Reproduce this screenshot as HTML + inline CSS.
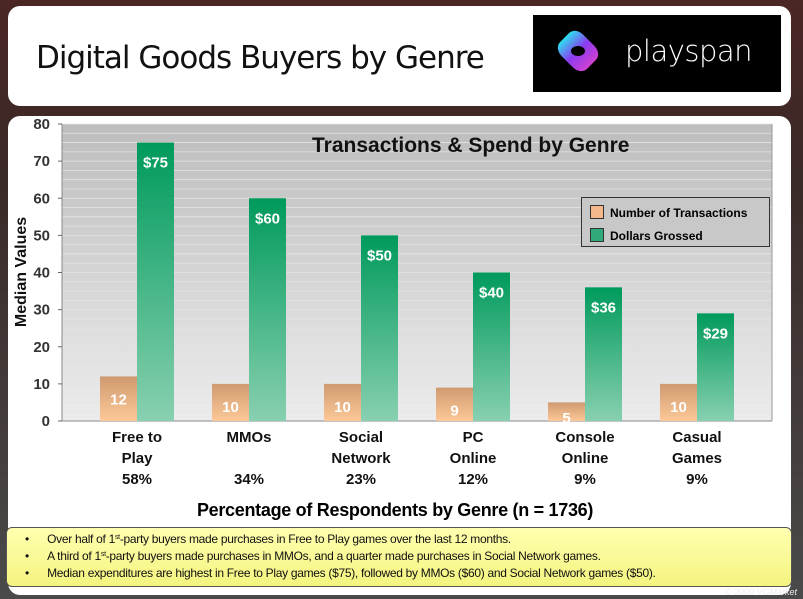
<!DOCTYPE html>
<html><head><meta charset="utf-8"><style>
body{margin:0;width:803px;height:599px;overflow:hidden;background:linear-gradient(#4a2624,#3a2a28 30%,#4a4a4a);font-family:"Liberation Sans",sans-serif;position:relative}
.abs{position:absolute}
sup{font-size:7px;line-height:0;vertical-align:4px}
</style></head><body>
<div class="abs" style="left:8px;top:6px;width:783px;height:100px;background:#fff;border-radius:12px"></div>
<div class="abs" style="left:36px;top:40px;font-size:31px;color:#111;font-family:'DejaVu Sans',sans-serif;letter-spacing:-1px">Digital Goods Buyers by Genre</div>
<div class="abs" style="left:533px;top:15px;width:248px;height:77px;background:#000">
 <div class="abs" style="left:26px;top:17px;width:38px;height:38px;border-radius:11px;transform:rotate(45deg) scaleY(.8);background:linear-gradient(90deg,#2de0f0,#8a3cf0,#d040d0)"></div>
 <div class="abs" style="left:38px;top:31px;width:14px;height:10px;border-radius:50%;background:#000"></div>
 <div class="abs" style="left:92px;top:19px;color:#fff;font-size:29px;font-family:'DejaVu Sans',sans-serif;font-weight:300;letter-spacing:-0.5px">playspan</div>
</div>
<div class="abs" style="left:8px;top:116px;width:783px;height:479px;background:#fff;border-radius:12px"></div>
<svg class="abs" style="left:0;top:0" width="803" height="599">
<defs>
<linearGradient id="bg" x1="0" y1="0" x2="0" y2="1"><stop offset="0" stop-color="#bdbdbd"/><stop offset="1" stop-color="#ececec"/></linearGradient>
<linearGradient id="gg" x1="0" y1="0" x2="0" y2="1"><stop offset="0" stop-color="#009a5c"/><stop offset="1" stop-color="#88d0b0"/></linearGradient>
<linearGradient id="og" x1="0" y1="0" x2="0" y2="1"><stop offset="0" stop-color="#d09a70"/><stop offset="1" stop-color="#fcc898"/></linearGradient>
</defs>
<g id="plot"></g>
<text x="26" y="272" transform="rotate(-90 26 272)" text-anchor="middle" font-size="16" font-weight="bold" fill="#111" font-family="Liberation Sans, sans-serif">Median Values</text>
</svg>
<div class="abs" style="left:312px;top:134px;font-size:21px;font-weight:bold;color:#111">Transactions &amp; Spend by Genre</div>
<div class="abs" style="left:581px;top:197px;width:187px;height:48px;border:1px solid #333;background:#c8c8c8;font-size:12px;font-weight:bold">
 <div class="abs" style="left:8px;top:7px"><span style="display:inline-block;width:12px;height:12px;border:1px solid #333;background:#f4b88c;vertical-align:-2px;margin-right:6px"></span>Number of Transactions</div>
 <div class="abs" style="left:8px;top:30px"><span style="display:inline-block;width:12px;height:12px;border:1px solid #333;background:#30aa78;vertical-align:-2px;margin-right:6px"></span>Dollars Grossed</div>
</div>
<div class="abs" style="left:0;top:500px;width:790px;text-align:center;font-family:'Liberation Sans',sans-serif;font-size:18px;font-weight:bold;letter-spacing:-0.3px">Percentage of Respondents by Genre (n = 1736)</div>
<div class="abs" style="left:6px;top:527px;width:784px;height:58px;background:linear-gradient(#ffffb0,#f4f480);border:1px solid #555;border-radius:6px;font-family:'Liberation Sans',sans-serif;font-size:12px;letter-spacing:-0.3px;line-height:17px;color:#111">
 <div style="position:absolute;left:18px;top:3px">
 <div>•&nbsp;&nbsp;&nbsp;&nbsp;&nbsp;&nbsp;Over half of 1<sup>st</sup>-party buyers made purchases in Free to Play games over the last 12 months.</div>
 <div>•&nbsp;&nbsp;&nbsp;&nbsp;&nbsp;&nbsp;A third of 1<sup>st</sup>-party buyers made purchases in MMOs, and a quarter made purchases in Social Network games.</div>
 <div>•&nbsp;&nbsp;&nbsp;&nbsp;&nbsp;&nbsp;Median expenditures are highest in Free to Play games ($75), followed by MMOs ($60) and Social Network games ($50).</div>
 </div>
</div>
<div class="abs" style="right:6px;top:587px;font-size:9px;font-style:italic;color:#eee">© 2009 VGMarket</div>
<script>
const categories=[["Free to","Play"],["MMOs",""],["Social","Network"],["PC","Online"],["Console","Online"],["Casual","Games"]];
const percents=["58%","34%","23%","12%","9%","9%"];
const transactions=[12,10,10,9,5,10];
const dollars=[75,60,50,40,36,29];
const yTicks=[0,10,20,30,40,50,60,70,80];
const NS="http://www.w3.org/2000/svg";
const g=document.getElementById('plot');
const X0=62,X1=772,Y0=421,Y1=124,YMAX=80;
const y=v=>Y0-(v/YMAX)*(Y0-Y1);
const cx=i=>137+112*i;
const BW=37;
function mk(t,a){const e=document.createElementNS(NS,t);for(const k in a)e.setAttribute(k,a[k]);g.appendChild(e);return e;}
let bg=mk('rect',{x:X0,y:Y1,width:X1-X0,height:Y0-Y1,fill:'url(#bg)'});


for(let v=0;v<=YMAX;v+=2.5){mk('line',{x1:X0,x2:X1,y1:y(v),y2:y(v),stroke:'#e4e4e4','stroke-width':0.8});}
mk('line',{x1:X0,x2:X0,y1:Y1,y2:Y0,stroke:'#888'});
mk('line',{x1:X0,x2:X1,y1:Y0,y2:Y0,stroke:'#888'});
mk('line',{x1:X1,x2:X1,y1:Y1,y2:Y0,stroke:'#999'});
yTicks.forEach(v=>{
 mk('line',{x1:X0-4,x2:X0,y1:y(v),y2:y(v),stroke:'#666'});
 const t=mk('text',{x:50,y:y(v)+5,'text-anchor':'end','font-size':15,'font-weight':'bold',fill:'#333','font-family':'Liberation Sans, sans-serif'});
 t.textContent=v;
 
 
});
categories.forEach((c,i)=>{
 const o=mk('rect',{x:cx(i)-BW,y:y(transactions[i]),width:BW,height:Y0-y(transactions[i]),fill:'url(#og)'});
 
 
 const d=mk('rect',{x:cx(i),y:y(dollars[i]),width:BW,height:Y0-y(dollars[i]),fill:'url(#gg)'});
 
 
 const tl=mk('text',{x:cx(i)-BW/2,y:Math.min(y(transactions[i])+28,Y0+2),'text-anchor':'middle','font-size':15,'font-weight':'bold',fill:'#fff','font-family':'Liberation Sans, sans-serif'});
 tl.textContent=transactions[i];
 
 
 const dl=mk('text',{x:cx(i)+BW/2,y:y(dollars[i])+25,'text-anchor':'middle','font-size':15,'font-weight':'bold',fill:'#fff','font-family':'Liberation Sans, sans-serif'});
 dl.textContent='$'+dollars[i];
 
 
 [c[0],c[1],percents[i]].forEach((s,k)=>{
  const t=mk('text',{x:cx(i),y:442+k*21,'text-anchor':'middle','font-size':15,'font-weight':'bold',fill:'#111','font-family':'Liberation Sans, sans-serif'});
  t.textContent=s;
  
  
 });
});
</script>
</body></html>
